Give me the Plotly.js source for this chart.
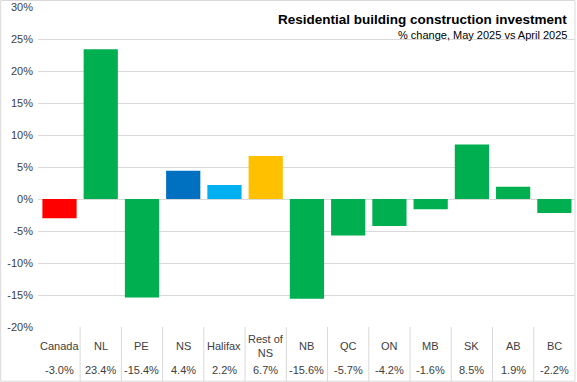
<!DOCTYPE html>
<html><head><meta charset="utf-8">
<script src="https://cdn.plot.ly/plotly-3.0.1.min.js"></script>
<style>html,body{margin:0;padding:0;background:#fff}#c{width:577px;height:382px}</style>
</head><body><div id="c"></div>
<script>
const categories = ["Canada","NL","PE","NS","Halifax","Rest of NS","NB","QC","ON","MB","SK","AB","BC"];
const tableLabels = ["Canada","NL","PE","NS","Halifax","Rest of<br>NS","NB","QC","ON","MB","SK","AB","BC"];
const values = [-3.0,23.4,-15.4,4.4,2.2,6.7,-15.6,-5.7,-4.2,-1.6,8.5,1.9,-2.2];
const barColors = ["#FF0000","#00B050","#00B050","#0070C0","#00B0F0","#FFC000","#00B050","#00B050","#00B050","#00B050","#00B050","#00B050","#00B050"];
const yTicks = [-20,-15,-10,-5,0,5,10,15,20,25,30];

const font = "Liberation Sans, Arial, sans-serif";
const annotations = [];
const shapes = [];
categories.forEach((c,i)=>{
  annotations.push({x:c, xref:'x', y:-0.058, yref:'paper', text:tableLabels[i], showarrow:false,
    font:{family:font,size:11,color:'#404040'}, yanchor:'middle'});
  annotations.push({x:c, xref:'x', y:-0.134, yref:'paper', text:values[i].toFixed(1)+'%', showarrow:false,
    font:{family:font,size:11,color:'#404040'}, yanchor:'middle'});
  if (i>0) shapes.push({type:'line', xref:'x', yref:'paper', x0:i-0.5, x1:i-0.5, y0:0, y1:-0.17, line:{color:'#d9d9d9',width:1}});
});
shapes.push({type:'rect', xref:'paper', yref:'paper', x0:-0.0695, x1:1, y0:-0.1695, y1:1.0203, line:{color:'#d9d9d9',width:1}});
annotations.push({xref:'paper', yref:'paper', x:0.988, y:0.99, xanchor:'right', yanchor:'top', showarrow:false,
  text:'<b>Residential building construction investment</b>', font:{family:font,size:13.5,color:'#000'}});
annotations.push({xref:'paper', yref:'paper', x:0.988, y:0.937, xanchor:'right', yanchor:'top', showarrow:false,
  text:'% change, May 2025 vs April 2025', font:{family:font,size:11,color:'#000'}});

Plotly.newPlot('c', [{
  type:'bar', x:categories, y:values, marker:{color:barColors}, hoverinfo:'none'
}], {
  width:577, height:382,
  margin:{l:38, r:2, t:7, b:55},
  paper_bgcolor:'#fff', plot_bgcolor:'#fff',
  bargap:0.17,
  showlegend:false,
  xaxis:{type:'category', showticklabels:false, ticks:'', showgrid:false, zeroline:false, showline:false},
  yaxis:{range:[-20,30], tickvals:yTicks, ticktext:yTicks.map(v=>v+'%'), showgrid:true, gridcolor:'#d9d9d9',
    zeroline:true, zerolinecolor:'#d9d9d9', zerolinewidth:1, showline:false, ticks:'',
    tickfont:{family:font,size:11,color:'#404040'}, ticklabelstandoff:4},
  annotations:annotations, shapes:shapes
}, {staticPlot:true});
</script></body></html>
